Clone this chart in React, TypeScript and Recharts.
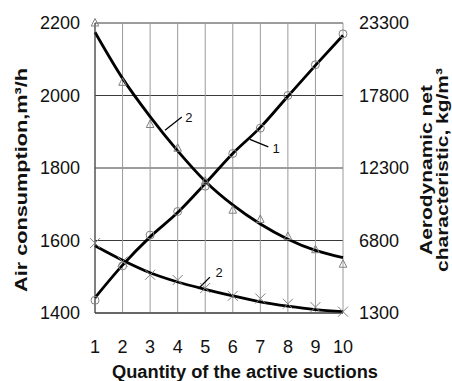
import {
  CartesianGrid,
  ComposedChart,
  Label,
  Line,
  ReferenceDot,
  ReferenceLine,
  XAxis,
  YAxis,
} from "recharts";

const suctions = [1, 2, 3, 4, 5, 6, 7, 8, 9, 10];

// curve 1 (circles), left axis
const airPoints = [1435, 1530, 1615, 1680, 1750, 1840, 1910, 2000, 2085, 2170];
const airCurve = [1442, 1532, 1610, 1677, 1757, 1840, 1912, 1998, 2083, 2166];

// curve 2 (triangles), right axis
const netPoints = [23300, 18800, 15600, 13800, 11300, 9100, 8400, 7100, 6100, 5000];
const netCurve = [22600, 19100, 16200, 13600, 11300, 9500, 8050, 6900, 6050, 5500];

// curve 3 (crosses), right axis
const lowPoints = [6600, 5200, 4200, 3800, 3200, 2600, 2400, 2000, 1750, 1400];
const lowCurve = [6400, 5300, 4350, 3650, 3100, 2600, 2150, 1820, 1560, 1400];

const leftTicks = [1400, 1600, 1800, 2000, 2200];
const rightTicks = [1300, 6800, 12300, 17800, 23300];

// curve callouts: leader start, leader end, text anchor (left axis units)
const callouts = [
  { text: "1", from: [6.62, 1879], to: [7.29, 1858], at: [7.57, 1854] },
  { text: "2", from: [3.54, 1904], to: [4.15, 1941], at: [4.41, 1940] },
  { text: "2", from: [4.75, 1467], to: [5.17, 1499], at: [5.5, 1511] },
];

const rows = suctions.map((n, i) => ({
  n,
  airPoint: airPoints[i],
  airCurve: airCurve[i],
  netPoint: netPoints[i],
  netCurve: netCurve[i],
  lowPoint: lowPoints[i],
  lowCurve: lowCurve[i],
}));

const FONT = "'Liberation Sans', Arial, sans-serif";
const MARK = "#808080";

function circleDot(props: any) {
  const { cx, cy, index } = props;
  if (cx == null || cy == null) return <g key={`c${index}`} />;
  return <circle key={`c${index}`} cx={cx} cy={cy} r={4} fill="none" stroke={MARK} strokeWidth={1} />;
}

function triangleDot(props: any) {
  const { cx, cy, index } = props;
  if (cx == null || cy == null) return <g key={`t${index}`} />;
  return (
    <path
      key={`t${index}`}
      d={`M${cx},${cy - 4.5}L${cx + 3.8},${cy + 3}L${cx - 3.8},${cy + 3}Z`}
      fill="none"
      stroke={MARK}
      strokeWidth={1}
    />
  );
}

function crossDot(props: any) {
  const { cx, cy, index } = props;
  if (cx == null || cy == null) return <g key={`x${index}`} />;
  return (
    <path
      key={`x${index}`}
      d={`M${cx - 5},${cy - 5}L${cx + 5},${cy + 5}M${cx - 5},${cy + 5}L${cx + 5},${cy - 5}`}
      stroke={MARK}
      strokeWidth={1}
    />
  );
}

function BottomTitle({ viewBox }: any) {
  const x = viewBox.x + viewBox.width / 2 + 26;
  const y = viewBox.y + 65;
  return (
    <text
      x={x}
      y={y}
      textAnchor="middle"
      fontFamily={FONT}
      fontSize={18}
      fontWeight="bold"
      fill="#111"
      textLength={266}
      lengthAdjust="spacingAndGlyphs"
    >
      Quantity of the active suctions
    </text>
  );
}

function LeftTitle({ viewBox }: any) {
  const x = viewBox.x + 27;
  const y = viewBox.y + viewBox.height / 2 + 12;
  return (
    <text
      x={x}
      y={y}
      transform={`rotate(-90, ${x}, ${y})`}
      textAnchor="middle"
      fontFamily={FONT}
      fontSize={17}
      fontWeight="bold"
      fill="#111"
      textLength={224}
      lengthAdjust="spacingAndGlyphs"
    >
      Air consumption,m³/h
    </text>
  );
}

function RightTitle({ viewBox }: any) {
  const y = viewBox.y + viewBox.height / 2 + 2;
  const x1 = viewBox.x + 89;
  const x2 = viewBox.x + 105;
  return (
    <g fontFamily={FONT} fontSize={17} fontWeight="bold" fill="#111">
      <text
        x={x1}
        y={y}
        transform={`rotate(-90, ${x1}, ${y})`}
        textAnchor="middle"
        textLength={170}
        lengthAdjust="spacingAndGlyphs"
      >
        Aerodynamic net
      </text>
      <text
        x={x2}
        y={y}
        transform={`rotate(-90, ${x2}, ${y})`}
        textAnchor="middle"
        textLength={204}
        lengthAdjust="spacingAndGlyphs"
      >
        characteristic, kg/m³
      </text>
    </g>
  );
}

export default function App() {
  const tick = { fill: "#111", fontSize: 18, fontFamily: FONT };

  return (
    <div style={{ position: "absolute", left: 0, top: 0, width: 452, height: 381, background: "#fff" }}>
      <ComposedChart
        width={452}
        height={381}
        data={rows}
        margin={{ top: 23, right: 0, bottom: 0, left: 0 }}
      >
        <CartesianGrid yAxisId="left" vertical={false} stroke="#3a3a3a" />
        <CartesianGrid yAxisId="left" horizontal={false} stroke="#9a9a9a" />
        <XAxis
          dataKey="n"
          type="number"
          domain={[1, 10]}
          ticks={suctions}
          height={68}
          tick={tick}
          tickLine={false}
          tickSize={0}
          tickMargin={27}
          axisLine={{ stroke: "#333" }}
        >
          <Label content={<BottomTitle />} />
        </XAxis>
        <YAxis
          yAxisId="left"
          domain={[1400, 2200]}
          ticks={leftTicks}
          width={95}
          tick={tick}
          tickLine={false}
          tickSize={0}
          tickMargin={15}
          axisLine={{ stroke: "#333" }}
        >
          <Label content={<LeftTitle />} />
        </YAxis>
        <YAxis
          yAxisId="right"
          orientation="right"
          domain={[1300, 23300]}
          ticks={rightTicks}
          width={109}
          tick={tick}
          tickLine={false}
          tickSize={0}
          tickMargin={16}
          axisLine={false}
        >
          <Label content={<RightTitle />} />
        </YAxis>

        <Line yAxisId="left" dataKey="airPoint" stroke="none" dot={circleDot} activeDot={false} isAnimationActive={false} />
        <Line yAxisId="right" dataKey="netPoint" stroke="none" dot={triangleDot} activeDot={false} isAnimationActive={false} />
        <Line yAxisId="right" dataKey="lowPoint" stroke="none" dot={crossDot} activeDot={false} isAnimationActive={false} />

        <Line yAxisId="left" type="monotone" dataKey="airCurve" stroke="#000" strokeWidth={2.8} dot={false} activeDot={false} isAnimationActive={false} />
        <Line yAxisId="right" type="monotone" dataKey="netCurve" stroke="#000" strokeWidth={2.8} dot={false} activeDot={false} isAnimationActive={false} />
        <Line yAxisId="right" type="monotone" dataKey="lowCurve" stroke="#000" strokeWidth={2.8} dot={false} activeDot={false} isAnimationActive={false} />

        {callouts.map((c, i) => (
          <ReferenceLine
            key={`l${i}`}
            yAxisId="left"
            segment={[
              { x: c.from[0], y: c.from[1] },
              { x: c.to[0], y: c.to[1] },
            ]}
            stroke="#000"
            strokeWidth={1.3}
          />
        ))}
        {callouts.map((c, i) => (
          <ReferenceDot
            key={`d${i}`}
            yAxisId="left"
            x={c.at[0]}
            y={c.at[1]}
            r={0}
            fill="none"
            stroke="none"
            label={{ value: c.text, position: "center", fontSize: 13, fontFamily: FONT, fill: "#111" }}
          />
        ))}
      </ComposedChart>
    </div>
  );
}
